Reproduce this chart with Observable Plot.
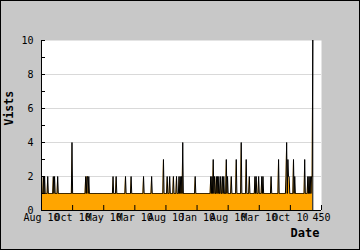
<!DOCTYPE html>
<html>
<head>
<meta charset="utf-8">
<script src="https://cdn.jsdelivr.net/npm/d3@7"></script>
<script src="https://cdn.jsdelivr.net/npm/@observablehq/plot@0.6"></script>
<style>
  html, body { margin: 0; padding: 0; background: #c8c8c8; }
  #chart svg { display: block; outline: 1px solid #000; outline-offset: -1px; }
</style>
</head>
<body>
<div id="chart"></div>
<script>
// Daily visits, one value per day (index 0..436)
const visits = [
  1,1,1,2,1,2,1,1,1,1, 2,1,1,1,1,1,1,1,1,2, 1,2,1,1,1,1,2,1,1,1, 1,1,1,1,1,1,1,1,1,1, 1,1,1,1,1,1,1,1,1,4,
  1,1,1,1,1,1,1,1,1,1, 1,1,1,1,1,1,1,1,1,1, 1,2,1,2,2,1,2,1,1,1, 1,1,1,1,1,1,1,1,1,1, 1,1,1,1,1,1,1,1,1,1,
  1,1,1,1,1,1,1,1,1,1, 1,1,1,1,1,2,1,1,1,1, 2,1,1,1,1,1,1,1,1,1, 1,1,1,1,1,2,1,1,1,1, 1,1,1,1,2,1,1,1,1,1,
  1,1,1,1,1,1,1,1,1,1, 1,1,1,1,2,1,1,1,1,1, 1,1,1,1,1,1,1,2,1,1, 1,1,1,1,1,1,1,1,1,1, 1,1,1,1,1,1,3,1,1,1,
  1,1,2,1,1,1,2,1,1,1, 1,1,2,1,1,1,1,2,1,1, 1,2,1,2,1,2,1,4,1,1, 1,1,1,1,1,1,1,1,1,1, 1,1,1,1,1,1,1,2,1,1,
  1,1,1,1,1,1,1,1,1,1, 1,1,1,1,1,1,1,1,1,1, 1,1,2,1,2,1,3,1,2,1, 1,2,1,2,1,2,1,1,2,1, 1,2,1,2,1,1,1,3,1,2,
  1,1,1,1,1,2,1,1,1,1, 1,1,1,3,1,1,1,1,1,1, 1,4,1,1,1,1,1,1,1,3, 1,1,1,1,2,1,1,1,1,1, 1,1,1,2,1,2,1,1,1,2,
  1,1,1,1,2,1,2,1,1,1, 1,1,1,1,1,1,1,1,1,2, 1,1,1,1,1,1,1,1,1,1, 1,3,1,1,1,1,1,1,1,1, 1,1,1,2,4,1,3,2,2,1,
  1,1,1,1,1,3,1,2,1,1, 1,1,1,1,1,1,1,1,1,1, 1,1,1,3,1,1,1,1,2,1, 2,1,2,1,2,2,10
];

const xTickValues = [0, 50, 100, 150, 200, 250, 300, 350, 400, 450];
const xTickLabels = ["Aug 10", "Oct 10", "May 10", "Mar 10", "Aug 10", "Jan 10", "Aug 10", "Mar 10", "Oct 10", "450"];
const yTickValues = [0, 2, 4, 6, 8, 10];
const yMinorTicks = [0, 1, 2, 3, 4, 5, 6, 7, 8, 9, 10];
const yGridValues = [2, 4, 6, 8];
const xDomain = [0, 450];
const yDomain = [0, 10];
const yTitle = "Vists";
const xTitle = "Date";

const data = visits.map((v, i) => ({i, v}));
const last = [data[data.length - 1]];

const font = "DejaVu Sans Mono";

const chart = Plot.plot({
  width: 360,
  height: 250,
  marginLeft: 41,
  marginRight: 39,
  marginTop: 40,
  marginBottom: 40,
  style: {background: "#c8c8c8", fontFamily: font, fontSize: "10px", color: "#000"},
  x: {domain: xDomain, axis: null},
  y: {domain: yDomain, axis: null},
  marks: [
    Plot.frame({fill: "white", stroke: null}),
    Plot.ruleY(yGridValues, {stroke: "#d9d9d9", strokeWidth: 1}),
    Plot.areaY(data, {x: "i", y: "v", fill: "#ffa500", curve: "linear"}),
    Plot.lineY(data, {x: "i", y: "v", stroke: "#000", strokeWidth: 1, curve: "linear"}),
    Plot.ruleX(last, {x: "i", y1: 0, y2: "v", stroke: "#000", strokeWidth: 1}),
    Plot.ruleX([xDomain[0]], {stroke: "#000", strokeWidth: 1}),
    Plot.ruleY([yDomain[0]], {stroke: "#000", strokeWidth: 1}),
    Plot.tickY(yMinorTicks, {y: d => d, insetRight: 276, stroke: "#000"}),
    Plot.tickX(xTickValues, {x: d => d, insetTop: 165, stroke: "#000"}),
    Plot.text(yTickValues, {y: d => d, frameAnchor: "left", dx: -8, textAnchor: "end", text: d => String(d), fontSize: 10, fill: "#000"}),
    Plot.text(xTickValues, {x: d => d, frameAnchor: "bottom", dy: 10, text: (d, i) => xTickLabels[i], fontSize: 10, fill: "#000"}),
    Plot.text([yTitle], {frameAnchor: "left", dx: -32, rotate: -90, text: d => d, fontWeight: "bold", fontSize: 11.5, fill: "#000"}),
    Plot.text([xTitle], {frameAnchor: "bottom-right", dx: -2, dy: 26, textAnchor: "end", text: d => d, fontWeight: "bold", fontSize: 12, fill: "#000"})
  ]
});

document.getElementById("chart").appendChild(chart);
</script>
</body>
</html>
